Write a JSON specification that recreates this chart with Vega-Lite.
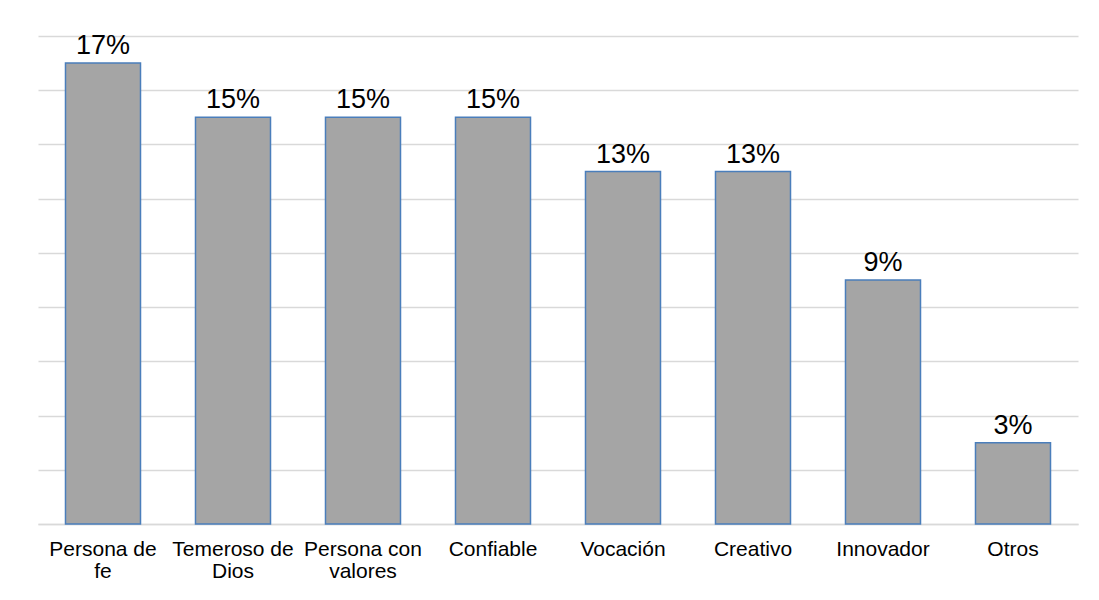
{
  "$schema": "https://vega.github.io/schema/vega-lite/v6.json",
  "autosize": {"type": "none"},
  "width": 1040,
  "height": 488,
  "padding": {"left": 38, "top": 36, "right": 21, "bottom": 76},
  "background": "white",
  "config": {"view": {"stroke": null}, "font": "Liberation Sans"},
  "data": {"values": [
    {"categoria": "Persona de fe", "valor": 0.17},
    {"categoria": "Temeroso de Dios", "valor": 0.15},
    {"categoria": "Persona con valores", "valor": 0.15},
    {"categoria": "Confiable", "valor": 0.15},
    {"categoria": "Vocación", "valor": 0.13},
    {"categoria": "Creativo", "valor": 0.13},
    {"categoria": "Innovador", "valor": 0.09},
    {"categoria": "Otros", "valor": 0.03}
  ]},
  "encoding": {
    "x": {
      "field": "categoria", "type": "nominal", "sort": null,
      "scale": {"paddingInner": 0.423, "paddingOuter": 0.2115},
      "axis": {
        "title": null, "labelAngle": 0, "ticks": false,
        "domainColor": "#d9d9d9", "domainWidth": 1.3,
        "labelFontSize": 21, "labelColor": "#000000", "labelPadding": 14,
        "labelLimit": 0, "labelOverlap": false, "labelLineHeight": 22,
        "labelExpr": "datum.value == 'Persona de fe' ? ['Persona de','fe'] : datum.value == 'Temeroso de Dios' ? ['Temeroso de','Dios'] : datum.value == 'Persona con valores' ? ['Persona con','valores'] : datum.value"
      }
    },
    "y": {
      "field": "valor", "type": "quantitative",
      "scale": {"domain": [0, 0.18], "nice": false},
      "axis": {
        "title": null, "labels": false, "ticks": false, "domain": false,
        "values": [0, 0.02, 0.04, 0.06, 0.08, 0.1, 0.12, 0.14, 0.16, 0.18],
        "gridColor": "#d9d9d9", "gridWidth": 1.3
      }
    }
  },
  "layer": [
    {"mark": {"type": "bar", "color": "#a5a5a5", "stroke": "#4a7ebb", "strokeWidth": 1.5}},
    {
      "mark": {"type": "text", "baseline": "alphabetic", "dy": -9, "fontSize": 27, "color": "#000000"},
      "encoding": {"text": {"field": "valor", "type": "quantitative", "format": ".0%"}}
    }
  ]
}
